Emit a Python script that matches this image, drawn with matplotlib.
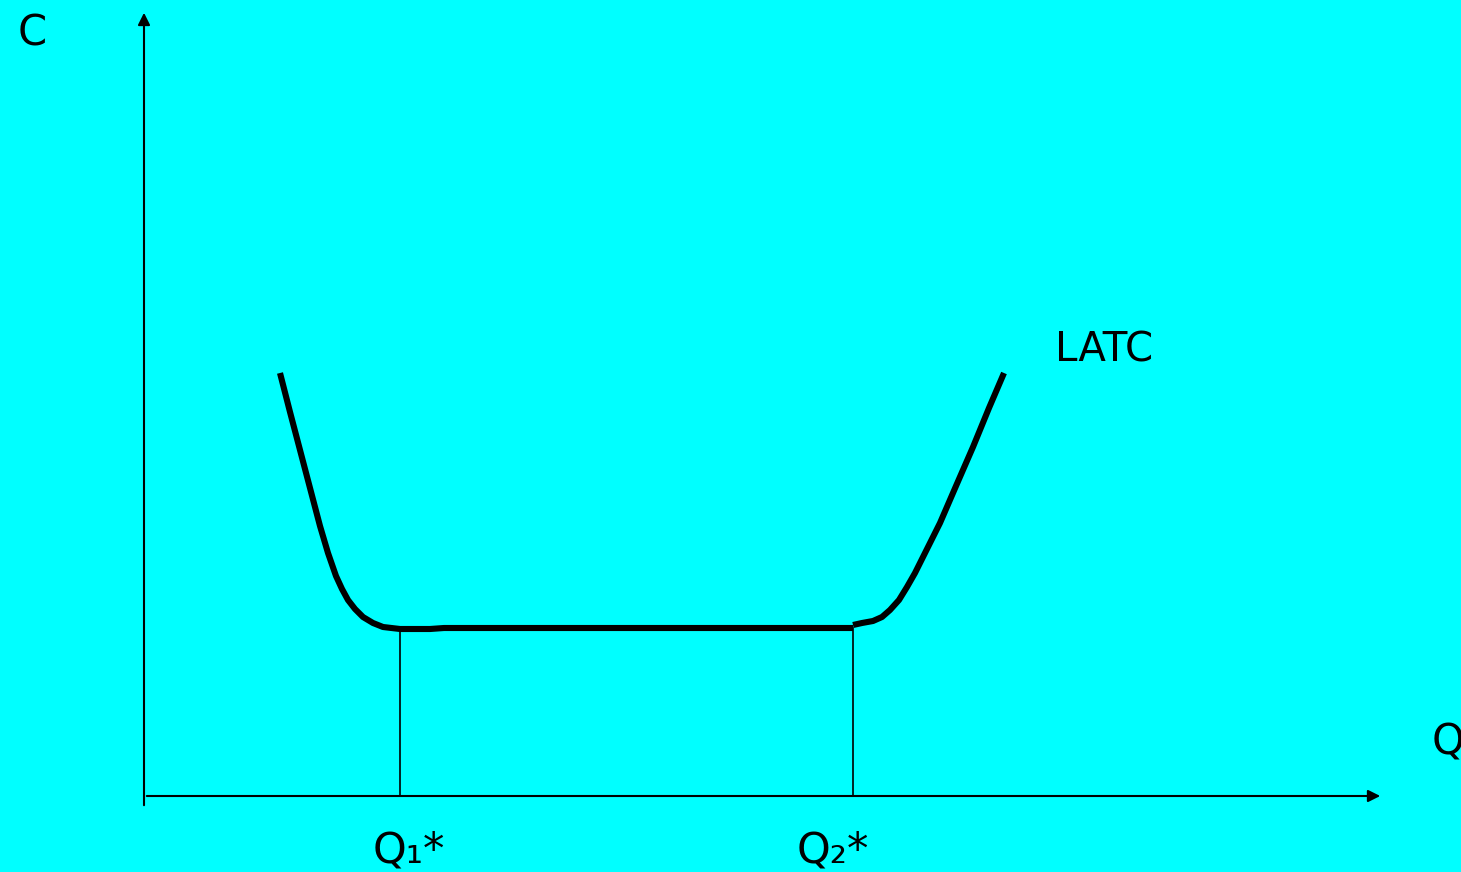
import matplotlib.pyplot as plt

# long-run average total cost curve (Q, C units)
left_q = [13.6, 14.6, 15.6, 16.6, 17.6, 18.4, 19.2, 19.8, 20.4, 21.1, 21.9, 22.9, 23.9, 25.6, 27.0, 28.6, 30.0, 31.6]
left_c = [42.3, 38.4, 34.6, 30.8, 27.0, 24.3, 22.0, 20.7, 19.6, 18.7, 17.9, 17.3, 16.9, 16.7, 16.7, 16.7, 16.8, 16.8]
flat_q = [31.6, 70.9]
flat_c = [16.8, 16.8]
right_q = [70.9, 71.8, 72.9, 73.8, 74.6, 75.5, 76.3, 77.1, 77.9, 79.6, 81.2, 82.9, 84.5, 86.0]
right_c = [17.1, 17.3, 17.5, 17.9, 18.6, 19.6, 20.9, 22.3, 23.9, 27.3, 31.0, 34.9, 38.8, 42.3]

q1, q2 = 25.6, 70.9
c_min = 16.8

bg = '#00FFFF'
fig = plt.figure(figsize=(14.61, 8.72), dpi=100, facecolor=bg)
ax = fig.add_axes([0, 0, 1, 1])
ax.set_facecolor(bg)
ax.set_xlim(-14.4, 131.7)
ax.set_ylim(-7.6, 79.6)
ax.axis('off')

# axes with arrows
ax.annotate('', xy=(0, 78.6), xytext=(0, -1.2),
            arrowprops=dict(arrowstyle='-|>', color='black', lw=1.5, mutation_scale=18))
ax.annotate('', xy=(123.9, 0), xytext=(0, 0),
            arrowprops=dict(arrowstyle='-|>', color='black', lw=1.5, mutation_scale=18))

# LATC curve
style = dict(color='black', lw=4.4, solid_capstyle='butt', solid_joinstyle='round')
ax.plot(left_q, left_c, **style)
ax.plot(flat_q, flat_c, **style)
ax.plot(right_q, right_c, **style)

# drop lines
ax.plot([q1, q1], [0, c_min], color='black', lw=1.2)
ax.plot([q2, q2], [0, c_min], color='black', lw=1.2)

ax.text(-12.6, 76.3, 'C', fontsize=30, ha='left', va='center')
ax.text(91.1, 44.6, 'LATC', fontsize=29, ha='left', va='center')
ax.text(128.8, 5.4, 'Q', fontsize=30, ha='left', va='center', clip_on=False)
ax.text(q1 - 2.7, -5.4, 'Q₁*', fontsize=31, ha='left', va='center')
ax.text(q2 - 5.6, -5.4, 'Q₂*', fontsize=31, ha='left', va='center')

fig.savefig('out.png', dpi=100, facecolor=bg)
